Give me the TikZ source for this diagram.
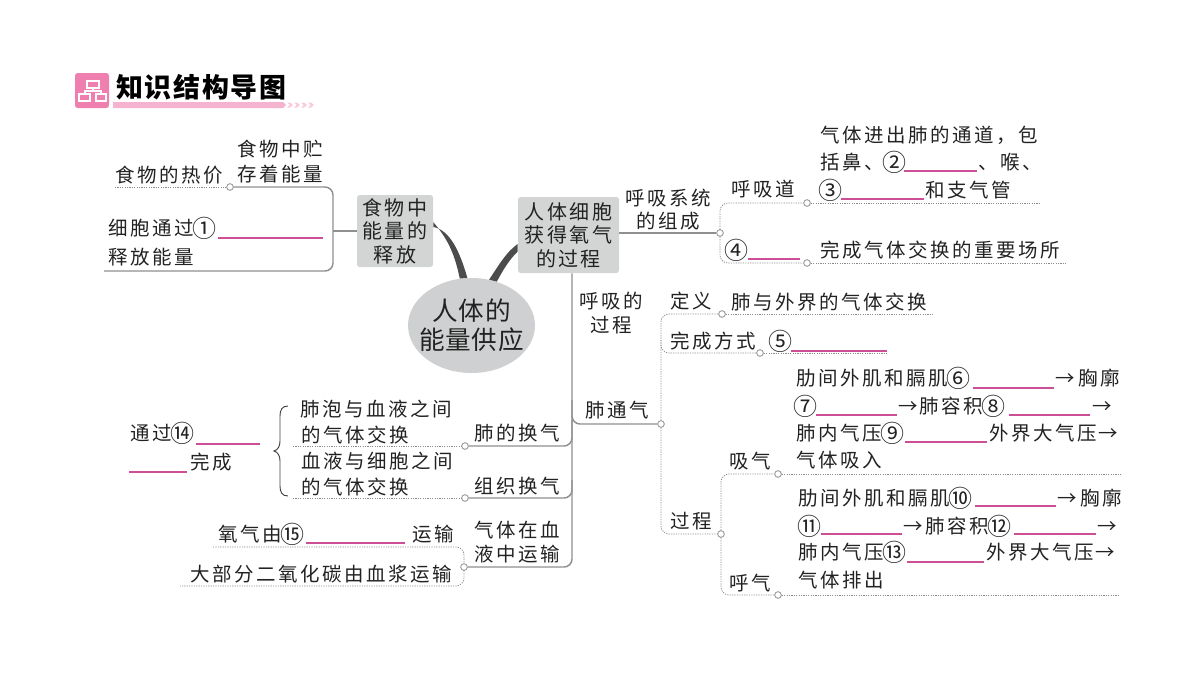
\documentclass[tikz,border=0pt]{standalone}
\usepackage{fontspec}
\usetikzlibrary{shapes.geometric}
\setmainfont{Noto Sans CJK SC}
\newfontfamily\bodyf[LetterSpace=13]{Noto Sans CJK SC}
\newfontfamily\boxf[LetterSpace=12]{Noto Sans CJK SC}
\newfontfamily\coref[LetterSpace=3]{Noto Sans CJK SC}
\newfontfamily\titlef[LetterSpace=6.5]{Noto Sans CJK SC}
\definecolor{ink}{HTML}{222222}
\definecolor{boxgray}{HTML}{D3D4D4}
\definecolor{coregray}{HTML}{CFD0D1}
\definecolor{linegray}{HTML}{8F8F8F}
\definecolor{dotgray}{HTML}{8A8A8A}
\definecolor{blankpink}{HTML}{CC4E94}
\definecolor{iconpink}{HTML}{EE7FAE}
\definecolor{barpink}{HTML}{F6B3CF}
\tikzset{
  txt/.style={anchor=west,inner sep=0pt,text=ink,font=\bodyf\fontsize{14.6pt}{16pt}\selectfont,text height=11pt,text depth=0pt},
  boxn/.style={fill=boxgray,rounded corners=2pt,inner sep=0pt,align=center,text=ink,font=\boxf\fontsize{15pt}{17.6pt}\selectfont},
  corestyle/.style={ellipse,fill=coregray,inner sep=0pt},
  corelabel/.style={inner sep=0pt,align=center,text=ink,font=\coref\fontsize{19.2pt}{21.75pt}\selectfont},
  joint/.style={circle,draw=linegray,fill=white,line width=.6pt,minimum size=5pt,inner sep=0pt},
  solidln/.style={draw=linegray,line width=1.1pt,rounded corners=6pt},
  dotln/.style={draw=dotgray,line width=.55pt,dash pattern=on .9pt off .9pt,rounded corners=6pt},
  blankln/.style={draw=blankpink,line width=.95pt},
  thickcurve/.style={fill=black!70,draw=none},
}
\newcommand{\blankat}[3]{\draw[blankln] (#1,#3) -- (#2,#3);}
\newcommand{\cn}[1]{\makebox[16.5pt]{\raisebox{-1.5pt}{\fontsize{18pt}{18pt}\selectfont #1}}}
\begin{document}
\begin{tikzpicture}[x=.75pt,y=-.75pt]
\useasboundingbox (0,0) rectangle (1200,675);
% heading
\fill[iconpink,rounded corners=2pt] (75,73) rectangle (109,108);
\draw[white,line width=.8pt] (87,81) rectangle (99,88);
\draw[white,line width=.8pt] (79,94) rectangle (90,101);
\draw[white,line width=.8pt] (96,94) rectangle (106,101);
\draw[white,line width=.8pt] (93,88) -- (93,91) (85,94) -- (85,91) -- (101,91) -- (101,94);
\fill[barpink] (113,102) -- (283,102) -- (286,105) -- (283,108) -- (113,108) -- cycle;
\foreach \cx in {287,294,301,308}{\fill[barpink!70] (\cx,102.5) -- (\cx+3,102.5) -- (\cx+6,105) -- (\cx+3,107.5) -- (\cx,107.5) -- (\cx+2.5,105) -- cycle;}
\node[anchor=west,inner sep=0pt,text=black,font=\titlef\bfseries\fontsize{20.2pt}{22pt}\selectfont,text height=15pt,text depth=0pt] (title) at (116,87) {知识结构导图};

% central nodes
\node[corestyle,minimum width=95.25pt,minimum height=71.25pt] (core) at (471.5,325.5) {};
\node[corelabel] (coretext) at (471.5,325.5) {人体的\\能量供应};
\node[boxn,minimum width=57pt,minimum height=54pt] (foodbox) at (395,231) {食物中\\能量的\\释放};
\node[boxn,minimum width=75.75pt,minimum height=57pt] (humanbox) at (568.5,235) {人体细胞\\获得氧气\\的过程};
\path[thickcurve] (foodbox.6) .. controls (450,230) and (460,252) .. (core.95) -- (core.104) .. controls (455,256) and (449,240) .. (foodbox.13) -- cycle;
\path[thickcurve] (humanbox.190) .. controls (506,252) and (497,268) .. (core.69) -- (core.60) .. controls (503,270) and (509,260) .. (humanbox.198) -- cycle;

% left upper branch
\node[joint] (jfood) at (230,187) {};
\coordinate (foodmid) at (333,231);
\coordinate (foodend) at (104,271);
\coordinate (hotend) at (115,187);
\draw[solidln] (jfood.east) -- (333,187) -- (333,271) -- (foodend);
\draw[solidln] (foodmid) -- (foodbox.west);
\draw[dotln] (hotend) -- (jfood.west);
\node[txt] (a1) at (237,149) {食物中贮};
\node[txt] (a2) at (237,174) {存着能量};
\node[txt] (a3) at (115,175) {食物的热价};
\node[txt] (a4) at (108,228) {细胞通过\cn{①}};
\blankat{218}{323}{238}
\node[txt] (a5) at (108,257) {释放能量};

% respiratory system
\node[joint] (jsys) at (720,233) {};
\node[joint] (jdao) at (807,203) {};
\node[joint] (jfei) at (807,263) {};
\coordinate (daoend) at (1040,203);
\coordinate (feiend) at (1067,263);
\draw[solidln] (humanbox.east |- jsys) -- (jsys.west);
\draw[dotln] (jsys.north) -- (720,203) -- (jdao.west);
\draw[dotln] (jsys.south) -- (720,263) -- (jfei.west);
\draw[dotln] (jdao.east) -- (daoend);
\draw[dotln] (jfei.east) -- (feiend);
\node[txt] (b1) at (625,198) {呼吸系统};
\node[txt] (b2) at (636,221) {的组成};
\node[txt] (b3) at (731,189) {呼吸道};
\node[txt] (b4) at (820,135) {气体进出肺的通道，包};
\node[txt] (b5) at (820,162) {括鼻、\cn{②}};
\blankat{904}{977}{171}
\node[txt] (b6) at (978,162) {、喉、};
\node[txt] (b7) at (819,190) {\cn{③}};
\blankat{841}{924}{199}
\node[txt] (b8) at (925,190) {和支气管};
\node[txt] (b9) at (725,250) {\cn{④}};
\blankat{748}{800}{259}
\node[txt] (b10) at (820,250) {完成气体交换的重要场所};

% trunk
\node[joint] (jlung) at (465,446) {};
\node[joint] (jtissue) at (465,498) {};
\node[joint] (jblood) at (464,567) {};
\node[joint] (jvent) at (661,424) {};
\draw[solidln] (humanbox.south -| 572,0) -- (572,567) -- (jblood.east);
\draw[solidln] (572,400) -- (572,424) -- (jvent.west);
\draw[solidln] (572,420) -- (572,446) -- (jlung.east);
\draw[solidln] (572,480) -- (572,498) -- (jtissue.east);
\node[txt] (c1) at (579,301) {呼吸的};
\node[txt] (c2) at (590,325) {过程};
\node[txt] (c3) at (585,410) {肺通气};
\node[txt] (c4) at (474,433) {肺的换气};
\node[txt] (c5) at (474,486) {组织换气};
\node[txt] (c6) at (474,530) {气体在血};
\node[txt] (c7) at (474,554) {液中运输};

% ventilation
\node[joint] (jdef) at (722,314) {};
\node[joint] (jway) at (760,353) {};
\node[joint] (jproc) at (721,534) {};
\node[joint] (jin) at (778,474) {};
\node[joint] (jout) at (778,595) {};
\coordinate (defend) at (934,314);
\coordinate (wayend) at (888,353);
\coordinate (inend) at (1122,474);
\coordinate (outend) at (1120,595);
\draw[dotln] (jvent.north) -- (661,314) -- (jdef.west);
\draw[dotln] (jdef.east) -- (defend);
\draw[dotln] (661,340) -- (661,353) -- (jway.west);
\draw[dotln] (jway.east) -- (wayend);
\draw[dotln] (jvent.south) -- (661,534) -- (jproc.west);
\draw[dotln] (jproc.north) -- (721,474) -- (jin.west);
\draw[dotln] (jproc.south) -- (721,595) -- (jout.west);
\draw[dotln] (jin.east) -- (inend);
\draw[dotln] (jout.east) -- (outend);
\node[txt] (d1) at (670,301) {定义};
\node[txt] (d2) at (731,302) {肺与外界的气体交换};
\node[txt] (d3) at (670,341) {完成方式};
\node[txt] (d4) at (769,341) {\cn{⑤}};
\blankat{791}{887}{351}
\node[txt] (d5) at (670,521) {过程};
\node[txt] (d6) at (729,461) {吸气};
\node[txt] (d7) at (729,583) {呼气};
% inhale
\node[txt] (e1) at (796,378) {肋间外肌和膈肌\cn{⑥}};
\blankat{973}{1054}{388}
\node[txt] (e2) at (1055,378) {→};
\node[txt] (e3) at (1078,378) {胸廓};
\node[txt] (e4) at (794,406) {\cn{⑦}};
\blankat{816}{897}{415}
\node[txt] (e5) at (898,406) {→};
\node[txt] (e6) at (919,406) {肺容积\cn{⑧}};
\blankat{1009}{1090}{415}
\node[txt] (e7) at (1092,406) {→};
\node[txt] (e8) at (796,433) {肺内气压\cn{⑨}};
\blankat{905}{987}{442}
\node[txt] (e9) at (989,433) {外界大气压};
\node[txt] (e10) at (1098,433) {→};
\node[txt] (e11) at (796,460) {气体吸入};
% exhale
\node[txt] (f1) at (798,498) {肋间外肌和膈肌\cn{⑩}};
\blankat{975}{1056}{506}
\node[txt] (f2) at (1057,498) {→};
\node[txt] (f3) at (1080,498) {胸廓};
\node[txt] (f4) at (798,526) {\cn{⑪}};
\blankat{821}{902}{534}
\node[txt] (f5) at (903,526) {→};
\node[txt] (f6) at (925,526) {肺容积\cn{⑫}};
\blankat{1014}{1096}{534}
\node[txt] (f7) at (1097,526) {→};
\node[txt] (f8) at (798,552) {肺内气压\cn{⑬}};
\blankat{907}{984}{562}
\node[txt] (f9) at (986,552) {外界大气压};
\node[txt] (f10) at (1095,552) {→};
\node[txt] (f11) at (798,580) {气体排出};

% gas exchange
\coordinate (lungend) at (293,446);
\coordinate (tissueend) at (293,498);
\draw[dotln] (lungend) -- (jlung.west);
\draw[dotln] (tissueend) -- (jtissue.west);
\node[txt] (g1) at (300,409) {肺泡与血液之间};
\node[txt] (g2) at (301,435) {的气体交换};
\node[txt] (g3) at (301,461) {血液与细胞之间};
\node[txt] (g4) at (301,487) {的气体交换};
\draw[black!75,line width=.7pt] (288,406) .. controls (282,406) and (280,410) .. (280,416) -- (280,441) .. controls (280,446) and (278,450) .. (274,451) .. controls (278,452) and (280,456) .. (280,461) -- (280,486) .. controls (280,492) and (282,496) .. (288,496);
\node[txt] (g5) at (130,433) {通过\cn{⑭}};
\blankat{196}{260}{444}
\blankat{129}{187}{472}
\node[txt] (g6) at (190,462) {完成};

% blood transport
\coordinate (oxend) at (213,547);
\coordinate (coend) at (180,586);
\draw[dotln] (oxend) -- (464,547) -- (jblood.north);
\draw[dotln] (jblood.south) -- (464,586) -- (coend);
\node[txt] (h1) at (218,534) {氧气由\cn{⑮}};
\blankat{306}{405}{543}
\node[txt] (h2) at (412,534) {运输};
\node[txt] (h3) at (190,574) {大部分二氧化碳由血浆运输};
\end{tikzpicture}
\end{document}
